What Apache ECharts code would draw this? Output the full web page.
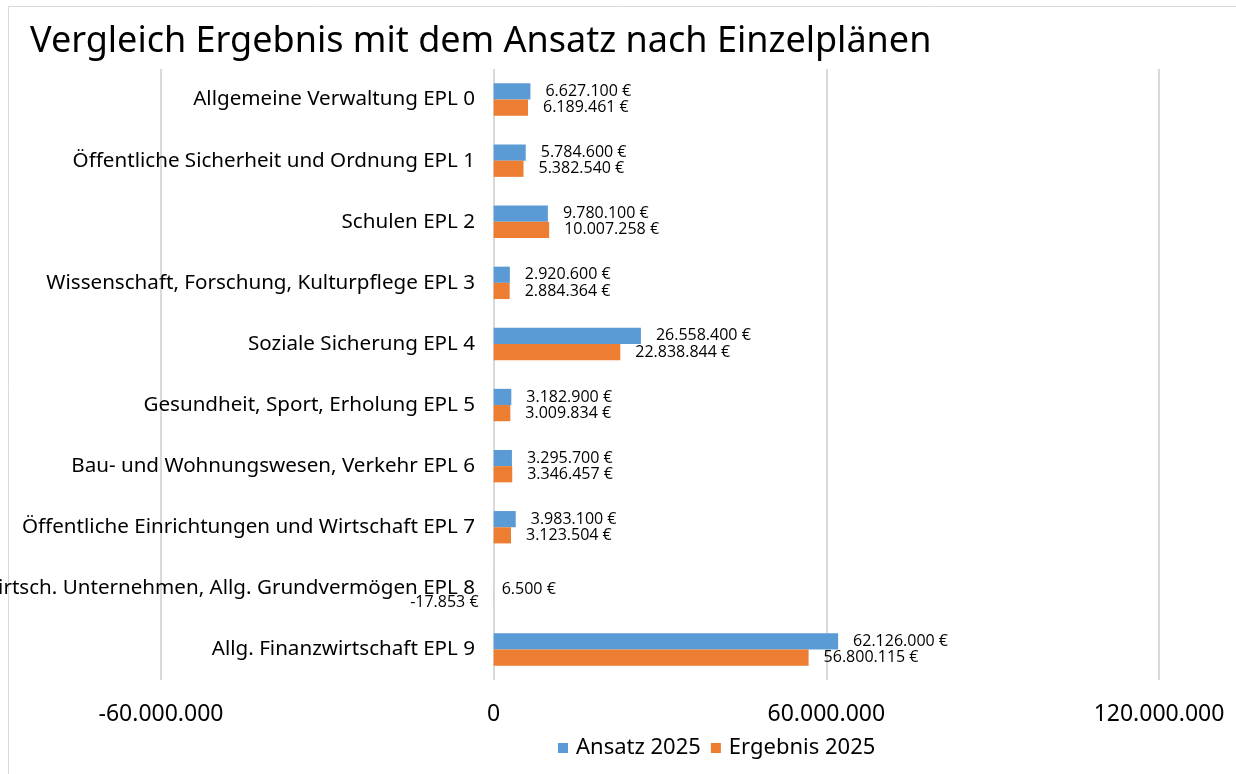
<!DOCTYPE html>
<html>
<head>
<meta charset="utf-8">
<script src="https://cdn.jsdelivr.net/npm/echarts@6/dist/echarts.min.js"></script>
<style>
html,body{margin:0;padding:0;background:#fff;}
#chart{width:1236px;height:774px;}
</style>
</head>
<body>
<div id="chart"></div>
<script>
const categories = [
  'Allgemeine Verwaltung EPL 0',
  'Öffentliche Sicherheit und Ordnung EPL 1',
  'Schulen EPL 2',
  'Wissenschaft, Forschung, Kulturpflege EPL 3',
  'Soziale Sicherung EPL 4',
  'Gesundheit, Sport, Erholung EPL 5',
  'Bau- und Wohnungswesen, Verkehr EPL 6',
  'Öffentliche Einrichtungen und Wirtschaft EPL 7',
  'Wirtsch. Unternehmen, Allg. Grundvermögen EPL 8',
  'Allg. Finanzwirtschaft EPL 9'
];
const ansatz2025 = [6627100, 5784600, 9780100, 2920600, 26558400, 3182900, 3295700, 3983100, 6500, 62126000];
const ergebnis2025 = [6189461, 5382540, 10007258, 2884364, 22838844, 3009834, 3346457, 3123504, -17853, 56800115];
const seriesNames = ['Ansatz 2025', 'Ergebnis 2025'];
const xTicks = [-60000000, 0, 60000000, 120000000];

function fmt(v) {
  return Math.round(v).toString().replace(/\B(?=(\d{3})+(?!\d))/g, '.');
}
// tiny bars: labels nudged apart as in the original
function toData(arr) {
  return arr.map(v => {
    if (v < 0) return { value: v, label: { position: 'left', offset: [0, 6] } };
    if (v < 100000) return { value: v, label: { offset: [-7, 9] } };
    return v;
  });
}

const chart = echarts.init(document.getElementById('chart'));
const labelStyle = {
  show: true,
  position: 'right',
  distance: 15,
  fontFamily: 'Open Sans',
  fontSize: 16,
  color: '#000',
  formatter: p => fmt(p.value) + ' €'
};
chart.setOption({
  animation: false,
  backgroundColor: '#fff',
  title: {
    text: 'Vergleich Ergebnis mit dem Ansatz nach Einzelplänen',
    left: 25,
    top: 19,
    textStyle: { fontFamily: 'Noto Sans', fontSize: 36, fontWeight: 'normal', color: '#000' }
  },
  graphic: [{
    type: 'rect',
    shape: { x: 8.5, y: 6.5, width: 1400, height: 900 },
    style: { fill: 'none', stroke: '#d9d9d9', lineWidth: 1 },
    silent: true
  }],
  legend: {
    bottom: 10,
    left: 553,
    icon: 'rect',
    itemWidth: 10,
    itemHeight: 10,
    itemGap: 10,
    textStyle: { fontFamily: 'Noto Sans', fontSize: 22, color: '#000', padding: [0, 0, 0, 3] },
    data: seriesNames
  },
  grid: { left: 161, right: 77, top: 69, bottom: 94, containLabel: false, outerBoundsMode: 'none' },
  xAxis: {
    type: 'value',
    min: -60000000,
    max: 120000000,
    interval: 60000000,
    axisLine: { show: false },
    axisTick: { show: false },
    splitLine: { show: true, lineStyle: { color: '#d9d9d9', width: 2 } },
    axisLabel: {
      margin: 23,
      fontFamily: 'Noto Sans',
      fontSize: 23,
      color: '#000',
      formatter: v => xTicks.includes(v) ? fmt(v) : ''
    }
  },
  yAxis: {
    type: 'category',
    inverse: true,
    data: categories,
    position: 'left',
    offset: -333,
    axisLine: { show: false, onZero: false },
    axisTick: { show: false },
    splitLine: { show: false },
    axisLabel: { margin: 19, fontFamily: 'Noto Sans', fontSize: 20.6, color: '#000' }
  },
  series: [
    {
      name: seriesNames[0],
      type: 'bar',
      data: toData(ansatz2025),
      itemStyle: { color: '#5B9BD5' },
      barGap: '0%',
      barCategoryGap: '47%',
      label: labelStyle
    },
    {
      name: seriesNames[1],
      type: 'bar',
      data: toData(ergebnis2025),
      itemStyle: { color: '#ED7D31' },
      barGap: '0%',
      barCategoryGap: '47%',
      label: labelStyle
    }
  ]
});
</script>
</body>
</html>
